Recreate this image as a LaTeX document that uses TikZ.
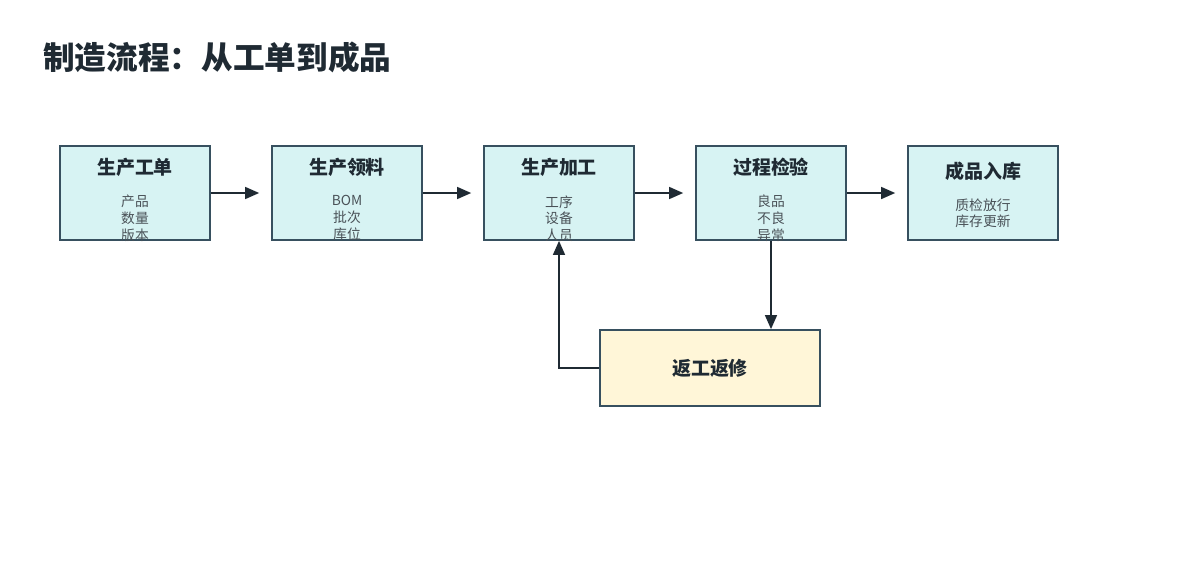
\documentclass[tikz,border=0pt]{standalone}
\usepackage{fontspec}
\setmainfont{Noto Sans CJK SC}
\usetikzlibrary{positioning,arrows.meta}
\definecolor{boxline}{HTML}{37505F}
\definecolor{stepfill}{HTML}{D7F3F3}
\definecolor{fixfill}{HTML}{FFF6D8}
\definecolor{ink}{HTML}{1F2A33}
\definecolor{subink}{HTML}{4A5258}
\tikzset{
  stage/.style={draw=boxline, line width=1.2pt, fill=stepfill, minimum width=3.75cm, minimum height=2.35cm, inner sep=0pt},
  fix/.style={draw=boxline, line width=1.2pt, fill=fixfill, minimum width=5.5cm, minimum height=1.9cm, inner sep=0pt},
  head/.style={font=\fontsize{13.5}{16}\selectfont\bfseries, text=ink, inner sep=0pt},
  sub/.style={font=\fontsize{9.8}{12}\selectfont, text=subink, align=center, inner sep=0pt},
  flow/.style={-{Triangle[length=10pt,width=8.5pt]}, line width=1.2pt, draw=ink}
}
\begin{document}
\begin{tikzpicture}[x=0.025cm, y=-0.025cm]
  \useasboundingbox (0,0) rectangle (1200,560);
  \node[anchor=west, font=\fontsize{22.5}{26}\selectfont\bfseries, text=ink, inner sep=0pt] (title) at (43,57) {制造流程：从工单到成品};
  \draw
    (135,193) node[stage] (order){}
    (347,193) node[stage] (pick){}
    (559,193) node[stage] (make){}
    (771,193) node[stage] (check){}
    (983,193) node[stage] (store){}
    (710,368) node[fix] (rework){};
  \node[head, below=9pt of order.north] (ordert){生产工单};
  \node[sub, below=13pt of order.north|-ordert.south] {产品\\数量\\版本};
  \node[head, below=9pt of pick.north] (pickt){生产领料};
  \node[sub, below=13pt of pick.north|-pickt.south] {BOM\\批次\\库位};
  \node[head, below=9pt of make.north] (maket){生产加工};
  \node[sub, below=13pt of make.north|-maket.south] {工序\\设备\\人员};
  \node[head, below=9pt of check.north] (checkt){过程检验};
  \node[sub, below=13pt of check.north|-checkt.south] {良品\\不良\\异常};
  \node[head, below=12pt of store.north] (storet){成品入库};
  \node[sub, below=12pt of store.north|-storet.south] {质检放行\\库存更新};
  \node[head] at (rework) {返工返修};
  \coordinate (pickin) at ([xshift=-8.5pt]pick.west);
  \coordinate (makein) at ([xshift=-8.5pt]make.west);
  \coordinate (checkin) at ([xshift=-8.5pt]check.west);
  \coordinate (storein) at ([xshift=-8.5pt]store.west);
  \begin{scope}[flow]
    \draw (order.east) -- (pickin);
    \draw (pick.east) -- (makein);
    \draw (make.east) -- (checkin);
    \draw (check.east) -- (storein);
    \draw (check.south) -- (rework.north-|check.south);
    \draw (rework.west) -| (make.south);
  \end{scope}
\end{tikzpicture}
\end{document}
